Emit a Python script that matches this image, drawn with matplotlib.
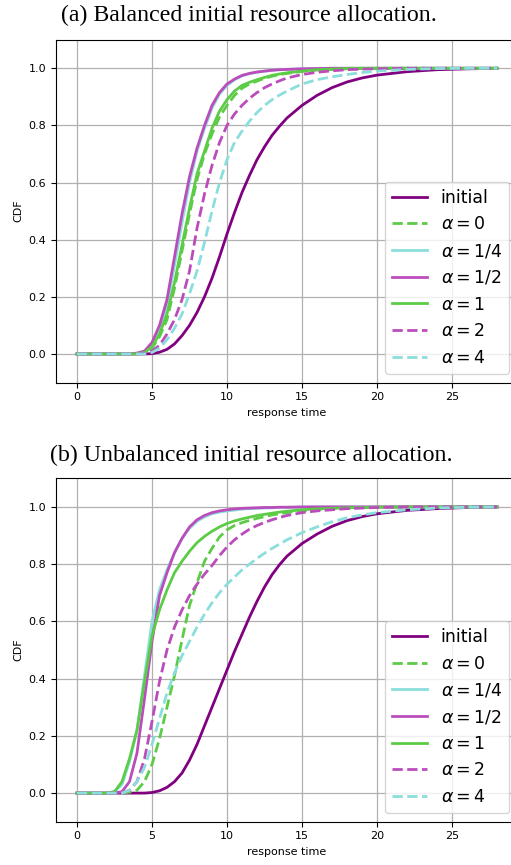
import numpy as np
import matplotlib
matplotlib.use("Agg")
import matplotlib.pyplot as plt

# response time grid shared by all curves
t = [0, 2, 2.5, 3, 3.5, 4, 4.5, 5, 5.5, 6, 6.5, 7, 7.5, 8, 8.5, 9, 9.5, 10,
     10.5, 11, 11.5, 12, 12.5, 13, 13.5, 14, 15, 16, 17, 18, 19, 20, 22, 24, 26, 28]

labels = ["initial", r"$\alpha = 0$", r"$\alpha = 1/4$", r"$\alpha = 1/2$",
          r"$\alpha = 1$", r"$\alpha = 2$", r"$\alpha = 4$"]

# (a) balanced
a_initial = [0, 0, 0, 0, 0, 0, 0, 0.001, 0.006, 0.016, 0.035, 0.064, 0.10, 0.145, 0.20, 0.265, 0.34, 0.42,
             0.495, 0.565, 0.625, 0.68, 0.725, 0.765, 0.797, 0.826, 0.87, 0.905, 0.932, 0.952, 0.966, 0.976, 0.988, 0.995, 0.998, 1.0]
a_alpha0 = [0, 0, 0, 0, 0, 0, 0.003, 0.02, 0.06, 0.12, 0.23, 0.36, 0.49, 0.61, 0.70, 0.77, 0.83, 0.87,
            0.905, 0.93, 0.945, 0.955, 0.965, 0.972, 0.978, 0.982, 0.989, 0.994, 0.996, 0.998, 0.999, 1, 1, 1, 1, 1]
a_alpha14 = [0, 0, 0, 0, 0, 0.002, 0.008, 0.035, 0.09, 0.17, 0.31, 0.46, 0.60, 0.71, 0.79, 0.86, 0.91, 0.94,
             0.96, 0.973, 0.981, 0.986, 0.99, 0.993, 0.995, 0.996, 0.998, 0.999, 1, 1, 1, 1, 1, 1, 1, 1]
a_alpha12 = [0, 0, 0, 0, 0, 0.003, 0.01, 0.04, 0.10, 0.19, 0.34, 0.49, 0.62, 0.72, 0.80, 0.87, 0.915, 0.945,
             0.962, 0.975, 0.982, 0.987, 0.99, 0.993, 0.995, 0.996, 0.998, 0.999, 1, 1, 1, 1, 1, 1, 1, 1]
a_alpha1 = [0, 0, 0, 0, 0, 0, 0.005, 0.025, 0.07, 0.14, 0.25, 0.38, 0.51, 0.63, 0.71, 0.79, 0.85, 0.89,
            0.92, 0.94, 0.951, 0.96, 0.968, 0.975, 0.98, 0.984, 0.99, 0.995, 0.997, 0.999, 1, 1, 1, 1, 1, 1]
a_alpha2 = [0, 0, 0, 0, 0, 0, 0.002, 0.01, 0.03, 0.07, 0.12, 0.19, 0.29, 0.44, 0.56, 0.66, 0.74, 0.80,
            0.84, 0.87, 0.895, 0.915, 0.932, 0.945, 0.956, 0.966, 0.978, 0.986, 0.991, 0.995, 0.997, 0.998, 1, 1, 1, 1]
a_alpha4 = [0, 0, 0, 0, 0, 0, 0, 0.005, 0.02, 0.05, 0.09, 0.14, 0.21, 0.29, 0.39, 0.50, 0.60, 0.68,
            0.74, 0.78, 0.815, 0.845, 0.87, 0.89, 0.906, 0.92, 0.945, 0.96, 0.97, 0.978, 0.985, 0.99, 0.996, 0.999, 1, 1]

# (b) unbalanced
b_initial = [0, 0, 0, 0, 0, 0, 0, 0.002, 0.008, 0.02, 0.04, 0.07, 0.115, 0.17, 0.235, 0.30, 0.365, 0.43,
             0.495, 0.555, 0.615, 0.67, 0.72, 0.763, 0.798, 0.828, 0.872, 0.905, 0.932, 0.952, 0.966, 0.976, 0.988, 0.994, 0.998, 1.0]
b_alpha0 = [0, 0, 0, 0, 0.003, 0.01, 0.04, 0.10, 0.19, 0.30, 0.41, 0.535, 0.655, 0.735, 0.81, 0.855, 0.895, 0.92,
            0.935, 0.945, 0.953, 0.96, 0.966, 0.972, 0.976, 0.98, 0.987, 0.991, 0.994, 0.996, 0.998, 0.999, 1, 1, 1, 1]
b_alpha14 = [0, 0, 0.005, 0.03, 0.11, 0.22, 0.41, 0.60, 0.71, 0.78, 0.84, 0.89, 0.925, 0.95, 0.965, 0.976, 0.982, 0.986,
             0.989, 0.992, 0.994, 0.995, 0.996, 0.997, 0.998, 0.998, 0.999, 1, 1, 1, 1, 1, 1, 1, 1, 1]
b_alpha12 = [0, 0, 0, 0.005, 0.04, 0.14, 0.33, 0.53, 0.69, 0.77, 0.84, 0.89, 0.93, 0.955, 0.97, 0.98, 0.986, 0.99,
             0.993, 0.995, 0.996, 0.997, 0.998, 0.998, 0.999, 0.999, 1, 1, 1, 1, 1, 1, 1, 1, 1, 1]
b_alpha1 = [0, 0, 0.005, 0.04, 0.12, 0.22, 0.39, 0.55, 0.64, 0.71, 0.77, 0.81, 0.845, 0.875, 0.897, 0.915, 0.93, 0.942,
            0.951, 0.958, 0.964, 0.97, 0.974, 0.978, 0.982, 0.985, 0.99, 0.993, 0.995, 0.997, 0.998, 0.999, 1, 1, 1, 1]
b_alpha2 = [0, 0, 0, 0, 0.01, 0.04, 0.12, 0.25, 0.39, 0.50, 0.58, 0.64, 0.69, 0.73, 0.765, 0.795, 0.83, 0.86,
            0.885, 0.905, 0.922, 0.935, 0.946, 0.955, 0.963, 0.97, 0.98, 0.986, 0.99, 0.994, 0.996, 0.998, 1, 1, 1, 1]
b_alpha4 = [0, 0, 0, 0, 0.01, 0.04, 0.09, 0.17, 0.26, 0.35, 0.42, 0.48, 0.53, 0.58, 0.625, 0.665, 0.70, 0.73,
            0.755, 0.78, 0.80, 0.82, 0.838, 0.855, 0.87, 0.885, 0.91, 0.93, 0.948, 0.962, 0.972, 0.98, 0.99, 0.996, 0.999, 1]

colors = ["#800080", "#5ccc46", "#8adedb", "#bb4cbb", "#5ccc46", "#bb4cbb", "#8adedb"]
styles = ["-", "--", "-", "-", "-", "--", "--"]


def draw_panel(ax, curves):
    for y, c, ls, lab in zip(curves, colors, styles, labels):
        ax.plot(t, y, color=c, linestyle=ls, linewidth=2, label=lab)
    ax.set_ylim(-0.1, 1.1)
    ax.set_xlim(-1.4, 29.4)
    ax.set_xticks([0, 5, 10, 15, 20, 25])
    ax.set_yticks([0.0, 0.2, 0.4, 0.6, 0.8, 1.0])
    ax.grid(True, color="#b0b0b0", linewidth=0.9)
    ax.set_axisbelow(True)
    ax.tick_params(labelsize=8)
    ax.set_xlabel("response time", fontsize=8)
    ax.set_ylabel("CDF", fontsize=8)
    ax.legend(loc="lower right", fontsize=12.5, framealpha=0.8)


W, H = 511, 865
fig = plt.figure(figsize=(W / 100, H / 100), dpi=100)

ax_a = fig.add_axes([56 / W, (H - 382.5) / H, 462 / W, 342.8 / H])
draw_panel(ax_a, [a_initial, a_alpha0, a_alpha14, a_alpha12, a_alpha1, a_alpha2, a_alpha4])

ax_b = fig.add_axes([56 / W, (H - 821.7) / H, 462 / W, 343.4 / H])
draw_panel(ax_b, [b_initial, b_alpha0, b_alpha14, b_alpha12, b_alpha1, b_alpha2, b_alpha4])

title_font = dict(family="Liberation Serif", fontsize=17.2, ha="center", va="center")
fig.text(248.5 / W, 1 - 15 / H, "(a) Balanced initial resource allocation.", **title_font)
fig.text(251 / W, 1 - 455 / H, "(b) Unbalanced initial resource allocation.", **title_font)

fig.savefig("out.png", dpi=100)
